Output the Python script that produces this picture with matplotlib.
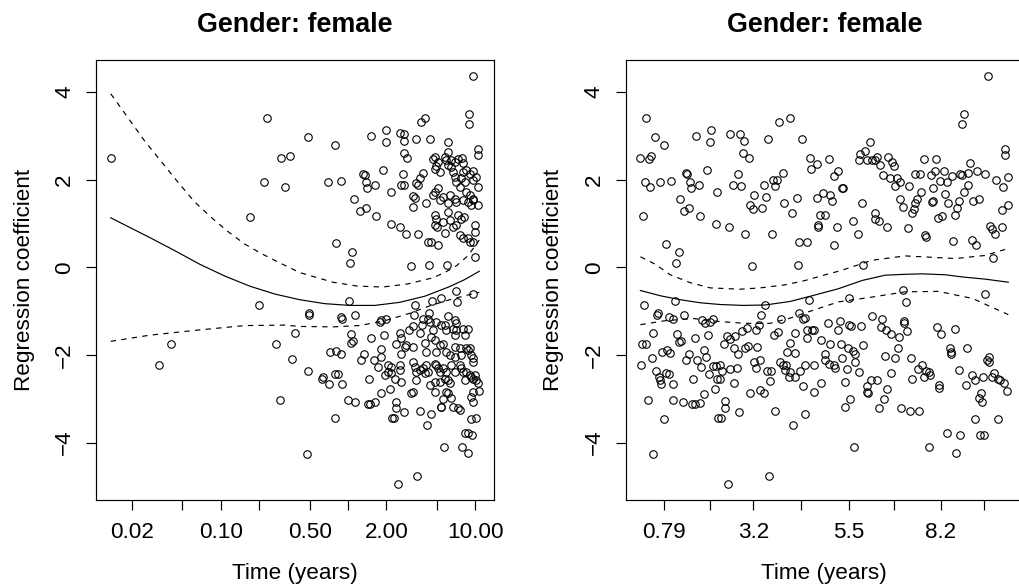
import numpy as np
import matplotlib
matplotlib.use("Agg")
import matplotlib.pyplot as plt
from matplotlib.ticker import NullLocator, FixedLocator, FixedFormatter

plt.rcParams['font.family'] = ['Liberation Sans', 'DejaVu Sans']

title = "Gender: female"
xlabel = "Time (years)"
ylabel = "Regression coefficient"

# ---------------- left panel: log10(time) vs scaled Schoenfeld residual ----------------
left_log10_time = [
    -1.864, -0.634, -0.524, -0.458, -0.660, -0.495, -0.772, -0.699, -1.388, -1.487, -0.566, -0.419, -0.437, -0.537,
    0.982, 0.948, 0.948, 0.603, 0.577, 0.302, 0.302, 0.406, 0.440, 0.440,
    0.537, 0.642, 0.184, -0.104, -0.314, 0.786, 1.022, 1.022, 0.786, 0.765,
    0.681, 0.812, 0.694, 0.896, 0.904, 0.440, 0.467, 0.276, 0.118, 0.132,
    -0.156, -0.052, 0.145, 0.152, 0.210, 0.336, 0.433, 0.414, 0.440, 0.537,
    0.564, 0.590, 0.550, 0.511, 0.524, 0.511, 0.616, 0.668, 0.687, 0.707,
    0.721, 0.747, 0.786, 0.799, 0.825, 0.838, 0.851, 0.878, 0.904, 0.930,
    0.956, 0.982, 0.891, 0.917, 0.982, 1.009, 1.022, 0.930, 0.956, 0.838,
    0.851, 0.904, 0.943, 0.982, 0.969, 1.022, 0.865, 0.891, 0.912, 0.982,
    0.045, 0.092, 0.139, 0.223, 0.336, 0.406, 0.454, 0.550, 0.629, 0.655,
    0.707, 0.681, 0.694, 0.681, 0.700, 0.786, 0.747, 0.799, 0.825, 0.760,
    0.851, 0.878, 0.904, 0.943, 0.956, 0.995, 0.995, 0.982, -0.096, 0.032,
    0.014, 0.498, 0.637, 0.781, 0.995, 0.812, 0.838, 0.865, 0.773, 0.786,
    0.721, 0.707, 0.681, 0.668,
    -0.314, -0.321, -0.306, -0.306, -0.052, -0.044, 0.053, 0.006, 0.851, 0.859,
    0.982, 0.663, 0.734, 0.529, 0.519, 0.637, 0.590, 0.629, 0.786, 0.838,
    0.851, 0.257, 0.296, 0.249, 0.027, 0.040, 0.027, 0.184, 0.283, -0.143,
    -0.096, -0.052, 0.126, 0.105, 0.202, 0.262, 0.262, 0.236, 0.315, 0.341,
    0.406, 0.380, 0.419, 0.459, 0.419, 0.446, 0.511, 0.480, 0.511, 0.564,
    0.603, 0.616, 0.582, 0.647, 0.668, 0.694, 0.734, 0.760, 0.773, 0.747,
    0.721, 0.694, 0.681, 0.655, 0.825, 0.838, 0.851, 0.904, 0.943, 0.917,
    0.838, 0.878, 0.930, 0.943, 0.956, 0.969, 0.982, 0.982, 0.773, 0.799,
    0.838, 0.891, 0.406, 0.341, 0.367, 0.406, 0.419, 0.511, 0.524, 0.537,
    0.564, 0.590, 0.603, 0.616, 0.629, 0.681, 0.694, 0.707, 0.721, 0.747,
    0.773, 0.812, 0.838, 0.878, 0.891, 0.904, 0.930, 0.956, 0.969, 0.982,
    0.995, 1.009, 1.022, 0.917, 0.786, 0.799, 0.760, 0.721, 0.681, 0.642,
    0.681, 0.773, 0.786, 0.812, 0.747, 0.734, 0.825, 0.865, 0.878, 0.982,
    0.969, 0.982, 1.030, 0.537, 0.511, 0.498, 0.262, 0.210, 0.171, 0.158,
    0.053, 0.001, -0.099, -0.078, -0.099, -0.196, -0.201, -0.149, -0.047, 0.166,
    0.380, 0.380, 0.438, 0.349, 0.359, 0.564, 0.655, 0.618, 0.728, 0.922,
    0.943, 0.977, 0.964, 1.003, 0.755, 0.896, 0.943, 0.396, 0.543, 0.333, 0.289, 0.315,
]
left_coef = [
    2.50, 3.41, 2.50, 2.54, 1.95, 1.84, 1.15, -0.86, -1.74, -2.23, -1.74, -1.51, -2.10, -3.03,
    4.36, 3.51, 3.26, 3.41, 3.32, 3.14, 2.85, 3.07, 3.04, 2.88,
    2.92, 2.92, 2.99, 2.80, 2.98, 2.86, 2.71, 2.56, 2.63, 2.52,
    2.51, 2.44, 2.31, 2.50, 2.37, 2.62, 2.50, 2.22, 2.14, 2.10,
    1.95, 1.97, 1.95, 1.81, 1.89, 1.72, 2.12, 1.89, 1.87, 1.93,
    2.03, 2.16, 1.87, 1.63, 1.58, 1.37, 1.46, 1.65, 1.72, 1.80,
    1.53, 1.61, 1.46, 1.65, 2.18, 2.06, 1.95, 1.84, 2.18, 2.22,
    2.14, 2.19, 2.03, 1.95, 1.99, 2.06, 1.84, 1.72, 1.65, 1.57,
    1.49, 1.53, 1.49, 1.53, 1.42, 1.42, 1.19, 1.11, 1.15, 1.57,
    1.57, 1.29, 1.36, 1.17, 0.98, 0.92, 0.75, 0.76, 0.58, 0.58,
    0.52, 1.19, 1.11, 0.96, 0.92, 1.27, 1.04, 1.08, 0.92, 0.79,
    0.96, 0.73, 0.67, 0.66, 0.58, 0.96, 0.81, 0.58, 0.56, 0.35,
    0.10, 0.03, 0.05, 0.06, 0.24, 2.29, 2.41, 2.48, 2.44, 2.33,
    2.18, 2.41, 2.25, 2.48,
    -2.37, -4.26, -1.05, -1.09, -1.13, -1.17, -1.09, -0.76, -0.54, -0.79,
    -0.62, -0.76, -0.70, -0.85, -1.08, -1.04, -1.17, -1.17, -1.11, -1.21,
    -1.28, -1.21, -1.18, -1.24, -1.53, -1.69, -1.72, -1.61, -1.55, -1.93,
    -1.91, -1.97, -1.99, -2.12, -2.12, -1.87, -2.04, -2.27, -2.23, -2.27,
    -1.51, -1.74, -1.61, -1.78, -1.97, -1.81, -1.81, -1.43, -1.34, -1.51,
    -1.72, -1.93, -1.32, -1.24, -1.43, -1.24, -1.32, -1.32, -1.43, -1.74,
    -1.78, -1.94, -1.66, -1.59, -1.40, -1.55, -1.43, -1.40, -1.40, -1.55,
    -1.81, -1.85, -1.85, -1.89, -1.85, -2.00, -2.08, -2.16, -1.93, -2.00,
    -2.04, -2.00, -2.23, -2.42, -2.54, -2.35, -2.61, -2.16, -2.27, -2.39,
    -2.35, -2.31, -2.42, -2.23, -2.39, -2.20, -2.23, -2.31, -2.39, -2.31,
    -2.39, -2.23, -2.39, -2.23, -2.31, -2.39, -2.39, -2.46, -2.50, -2.54,
    -2.46, -2.58, -2.65, -2.58, -2.58, -2.65, -2.54, -2.61, -2.61, -2.69,
    -2.84, -2.84, -2.88, -2.98, -3.00, -3.18, -3.18, -3.22, -3.26, -2.84,
    -2.96, -3.07, -2.83, -2.58, -2.84, -2.88, -2.88, -3.07, -3.13, -3.13,
    -3.07, -3.02, -3.45, -2.44, -2.44, -2.50, -2.54, -2.67, -2.67, -2.56,
    -3.07, -3.22, -3.30, -3.44, -3.45, -3.28, -3.36, -3.59, -3.18, -3.79,
    -3.79, -3.82, -3.47, -3.45, -4.11, -4.10, -4.25, -4.94, -4.77, -2.78, -2.46, -2.39,
]

# smooth fit and +/- 2 se band (left panel, log10 time)
left_fit_log10_time = [-1.864, -1.715, -1.558, -1.361, -1.165, -0.968, -0.772, -0.576, -0.379,
                       -0.183, 0.014, 0.210, 0.406, 0.603, 0.799, 0.917, 1.031]
left_fit = [1.13, 0.91, 0.68, 0.38, 0.07, -0.20, -0.43, -0.61, -0.74,
            -0.83, -0.87, -0.87, -0.80, -0.66, -0.44, -0.28, -0.09]
left_upper_log10_time = [-1.864, -1.730, -1.597, -1.463, -1.338, -1.204, -1.071, -0.945, -0.811, -0.678,
                         -0.536, -0.379, -0.120, 0.077, 0.273, 0.469, 0.666, 0.760, 0.854, 0.941, 1.031]
left_upper = [3.96, 3.42, 2.88, 2.40, 1.95, 1.49, 1.13, 0.82, 0.53, 0.31,
              0.10, -0.12, -0.34, -0.43, -0.45, -0.38, -0.24, -0.12, 0.04, 0.26, 0.62]
left_lower_log10_time = [-1.864, -1.558, -1.204, -0.811, -0.497, -0.379, -0.120, 0.092, 0.289,
                         0.485, 0.642, 0.799, 0.917, 1.031]
left_lower = [-1.69, -1.55, -1.44, -1.33, -1.32, -1.35, -1.36, -1.33, -1.22,
              -1.05, -0.88, -0.74, -0.65, -0.57]

left_ticks = [0.02, 0.05, 0.1, 0.2, 0.5, 1, 2, 5, 10]
left_ticklabels = ["0.02", "", "0.10", "", "0.50", "", "2.00", "", "10.00"]

# ---------------- right panel: KM-transformed time ----------------
right_km_time = [
    0.015, 0.039, 0.064, 0.000, 0.023, 0.030, 0.013, 0.027, 0.055, 0.084,
    0.128, 0.126, 0.137, 0.140, 0.160, 0.110, 0.121, 0.135, 0.163, 0.007,
    0.070, 0.105, 0.098, 0.154, 0.195, 0.192, 0.247, 0.275, 0.286, 0.282,
    0.298, 0.270, 0.254, 0.278, 0.211, 0.183, 0.352, 0.383, 0.413, 0.444,
    0.468, 0.470, 0.392, 0.376, 0.364, 0.370, 0.339, 0.312, 0.346, 0.303,
    0.309, 0.335, 0.396, 0.417, 0.431, 0.207, 0.245, 0.288, 0.361, 0.436,
    0.459, 0.307, 0.433,
    0.956, 0.890, 0.885, 0.633, 0.619, 0.605, 0.601, 0.623, 0.637, 0.646,
    0.651, 0.660, 0.683, 0.694, 0.697, 0.669, 0.688, 0.706, 0.715, 0.701,
    0.740, 0.757, 0.770, 0.781, 0.814, 0.812, 0.835, 0.801, 0.825, 0.844,
    0.857, 0.807, 0.773, 0.839, 0.885, 0.903, 0.908, 0.926, 0.949, 0.880,
    0.892, 0.903, 0.876, 0.871, 0.865, 0.917, 0.931, 0.979, 0.998, 1.012,
    1.004, 1.003, 1.012, 0.995, 0.715, 0.722, 0.761, 0.757, 0.752, 0.747,
    0.803, 0.807, 0.848, 0.830, 0.819, 0.995, 0.963, 0.968, 0.977, 0.486,
    0.518, 0.545, 0.534, 0.555, 0.559, 0.486, 0.504, 0.523, 0.527, 0.495,
    0.509, 0.490, 0.489, 0.541, 0.532, 0.585, 0.598, 0.610, 0.645, 0.645,
    0.656, 0.679, 0.736, 0.784, 0.787, 0.862, 0.913, 0.924, 0.972, 0.614,
    0.011, 0.094, 0.048, 0.046, 0.080, 0.089, 0.119, 0.344, 0.333, 0.388,
    0.438, 0.449, 0.465, 0.035, 0.004, 0.016, 0.101, 0.105, 0.113, 0.151,
    0.185, 0.169, 0.179, 0.192, 0.199, 0.032, 0.002, 0.059, 0.073, 0.082,
    0.133, 0.126, 0.156, 0.174, 0.181, 0.167, 0.043, 0.050, 0.071, 0.078,
    0.055, 0.057, 0.089, 0.145, 0.188, 0.200, 0.209, 0.220, 0.225, 0.218,
    0.211, 0.246, 0.266, 0.258, 0.206, 0.229, 0.238, 0.247, 0.261, 0.281,
    0.293, 0.318, 0.326, 0.367, 0.378, 0.425, 0.459, 0.472, 0.459, 0.257,
    0.268, 0.289, 0.295, 0.321, 0.314, 0.328, 0.318, 0.348, 0.359, 0.358,
    0.385, 0.394, 0.399, 0.402, 0.413, 0.408, 0.427, 0.440, 0.454, 0.477,
    0.404, 0.425, 0.411, 0.448, 0.477, 0.021, 0.091, 0.116, 0.142, 0.151,
    0.163, 0.174, 0.234, 0.232, 0.213, 0.222, 0.272, 0.301, 0.330, 0.341,
    0.371, 0.420, 0.452, 0.066, 0.036, 0.240, 0.354,
    0.573, 0.723, 0.732, 0.949, 0.454, 0.477, 0.516, 0.550, 0.544, 0.573,
    0.580, 0.608, 0.639, 0.665, 0.663, 0.676, 0.690, 0.711, 0.727, 0.727,
    0.735, 0.709, 0.700, 0.674, 0.690, 0.745, 0.749, 0.764, 0.775, 0.780,
    0.786, 0.795, 0.798, 0.816, 0.828, 0.867, 0.899, 0.853, 0.855, 0.856,
    0.876, 0.913, 0.922, 0.943, 0.954, 0.959, 0.961, 0.975, 0.968, 0.984,
    0.991, 1.002, 1.009, 0.498, 0.523, 0.553, 0.571, 0.591, 0.585, 0.613,
    0.507, 0.509, 0.518, 0.532, 0.536, 0.556, 0.591, 0.568, 0.601, 0.497,
    0.564, 0.623, 0.635, 0.651, 0.625, 0.628, 0.680, 0.671, 0.657, 0.578,
    0.562, 0.589, 0.718, 0.743, 0.766, 0.821, 0.821, 0.896, 0.938, 0.931,
    0.940, 0.922, 0.986, 0.844, 0.879, 0.934, 0.947, 0.795, 0.869,
]
right_coef = [
    3.41, 2.98, 2.79, 2.50, 2.48, 2.54, 1.95, 1.84, 1.95, 1.97,
    2.14, 2.16, 1.95, 1.81, 1.89, 1.57, 1.29, 1.36, 1.17, 1.17,
    0.54, 0.35, 0.10, 2.99, 3.14, 2.85, 3.05, 3.04, 2.88, 2.61,
    2.50, 2.12, 1.87, 1.85, 1.71, 2.22, 2.92, 3.32, 3.41, 2.92,
    2.50, 2.24, 2.16, 2.00, 2.00, 1.85, 1.87, 1.65, 1.61, 1.42,
    1.32, 1.36, 1.47, 1.23, 1.59, 0.98, 0.92, 0.75, 0.77, 0.58,
    0.58, 0.03, 0.05,
    4.36, 3.50, 3.26, 2.85, 2.65, 2.58, 2.46, 2.44, 2.44, 2.44,
    2.51, 2.33, 2.51, 2.41, 2.32, 2.10, 2.04, 2.03, 1.95, 1.86,
    1.85, 2.12, 2.12, 2.48, 2.48, 2.19, 2.19, 2.10, 1.97, 1.95,
    2.08, 1.82, 1.72, 1.68, 2.10, 2.16, 2.37, 2.19, 2.14, 2.12,
    1.72, 1.89, 1.51, 1.36, 1.19, 1.51, 1.55, 2.00, 1.84, 2.06,
    2.70, 2.56, 1.42, 1.30, 1.55, 1.38, 1.57, 1.46, 1.34, 1.23,
    1.49, 1.51, 1.46, 1.17, 1.13, 0.92, 0.94, 0.88, 0.75, 2.35,
    2.48, 2.19, 2.09, 1.80, 1.80, 1.58, 1.70, 1.65, 1.52, 1.20,
    1.19, 0.96, 0.92, 0.91, 0.52, 1.05, 0.77, 1.46, 1.23, 1.10,
    1.05, 0.91, 0.90, 0.73, 0.69, 0.60, 0.62, 0.50, 0.22, 0.05,
    -0.86, -0.76, -1.04, -1.09, -1.13, -1.17, -1.09, -0.85, -1.08, -1.17,
    -1.04, -1.17, -0.75, -1.51, -1.74, -1.74, -1.53, -1.70, -1.69, -1.61,
    -1.55, -1.21, -1.28, -1.24, -1.17, -2.08, -2.23, -1.93, -1.89, -1.95,
    -1.99, -2.12, -2.12, -1.88, -2.04, -2.27, -2.37, -2.50, -2.42, -2.44,
    -2.58, -2.67, -2.67, -2.56, -2.44, -2.25, -2.25, -2.23, -2.37, -2.54,
    -2.55, -2.32, -2.31, -2.63, -2.78, -1.74, -1.57, -1.64, -1.56, -1.46,
    -1.38, -1.43, -1.32, -1.55, -1.47, -1.50, -1.43, -1.43, -1.62, -1.85,
    -1.99, -1.84, -1.80, -1.81, -2.16, -2.12, -2.31, -2.37, -2.37, -2.60,
    -2.16, -2.23, -2.35, -2.22, -2.40, -2.50, -2.50, -2.37, -2.23, -2.23,
    -1.93, -1.95, -1.72, -2.70, -2.84, -3.03, -3.02, -3.07, -3.13, -3.13,
    -3.09, -2.90, -3.05, -3.22, -3.44, -3.45, -3.30, -2.88, -2.79, -2.86,
    -3.28, -3.59, -3.36, -3.47, -4.26, -4.94, -4.77,
    -0.70, -0.52, -0.79, -0.61, -1.15, -1.43, -1.28, -1.22, -1.43, -1.32,
    -1.34, -1.34, -1.11, -1.19, -1.37, -1.43, -1.53, -1.59, -1.23, -1.28,
    -1.46, -1.84, -2.08, -2.03, -2.42, -2.08, -2.55, -2.33, -2.23, -2.50,
    -2.37, -2.39, -2.45, -1.37, -1.53, -1.40, -1.85, -1.84, -1.93, -1.99,
    -2.35, -2.46, -2.58, -2.50, -2.12, -2.17, -2.04, -2.42, -2.50, -2.54,
    -2.58, -2.63, -2.83, -1.66, -1.76, -1.75, -1.84, -1.97, -1.91, -1.78,
    -1.99, -2.12, -2.20, -2.23, -2.29, -2.07, -2.17, -2.32, -2.39, -2.63,
    -2.61, -2.70, -2.58, -2.58, -2.84, -2.88, -2.78, -3.00, -3.21, -3.01,
    -3.18, -4.11, -3.21, -3.28, -3.28, -2.69, -2.75, -2.69, -2.86, -2.98,
    -3.07, -3.47, -3.46, -3.79, -3.82, -3.83, -3.83, -4.10, -4.25,
]

right_fit_km_time = [0.000, 0.055, 0.110, 0.165, 0.220, 0.283, 0.344, 0.412, 0.468, 0.545,
                     0.611, 0.674, 0.729, 0.776, 0.839, 0.886, 0.949, 1.013]
right_fit = [-0.53, -0.65, -0.74, -0.81, -0.85, -0.87, -0.86, -0.78, -0.66, -0.49,
             -0.30, -0.18, -0.16, -0.15, -0.17, -0.22, -0.27, -0.34]
right_upper_km_time = [0.000, 0.041, 0.082, 0.137, 0.192, 0.275, 0.330, 0.399, 0.454, 0.509,
                       0.550, 0.638, 0.729, 0.867, 0.949, 1.013]
right_upper = [0.24, 0.07, -0.17, -0.35, -0.47, -0.50, -0.47, -0.40, -0.30, -0.17,
               -0.08, 0.16, 0.26, 0.20, 0.27, 0.43]
right_lower_km_time = [0.000, 0.068, 0.146, 0.220, 0.289, 0.357, 0.412, 0.454, 0.545, 0.638,
                       0.729, 0.820, 0.914, 1.013]
right_lower = [-1.31, -1.22, -1.17, -1.24, -1.28, -1.28, -1.16, -1.04, -0.79, -0.68,
               -0.56, -0.55, -0.71, -1.08]

right_tick_pos = [0.0636, 0.192, 0.311, 0.443, 0.573, 0.699, 0.827, 0.947]
right_ticklabels = ["0.79", "", "3.2", "", "5.5", "", "8.2", ""]

y_ticks = [-4, -2, 0, 2, 4]

# ---------------- figure ----------------
W, H = 1019, 588
fig = plt.figure(figsize=(W / 100, H / 100), dpi=100)
axL = fig.add_axes([96 / W, 88 / H, 398 / W, 440 / H])
axR = fig.add_axes([625.7 / W, 88 / H, 397.3 / W, 440 / H])

FS = 16.2
pt_kw = dict(ls='none', marker='o', ms=5.4, mfc='none', mec='black', mew=0.8)
line_kw = dict(color='black', lw=0.85)
dash_kw = dict(color='black', lw=0.85, ls=(0, (4.5, 4.5)))

# left
axL.plot(10 ** np.array(left_log10_time), left_coef, **pt_kw)
axL.plot(10 ** np.array(left_fit_log10_time), left_fit, **line_kw)
axL.plot(10 ** np.array(left_upper_log10_time), left_upper, **dash_kw)
axL.plot(10 ** np.array(left_lower_log10_time), left_lower, **dash_kw)
axL.set_xscale('log')
axL.set_xlim(10 ** -1.9798, 10 ** 1.1468)
axL.xaxis.set_major_locator(FixedLocator(left_ticks))
axL.xaxis.set_major_formatter(FixedFormatter(left_ticklabels))
axL.xaxis.set_minor_locator(NullLocator())

# right
axR.plot(right_km_time, right_coef, **pt_kw)
axR.plot(right_fit_km_time, right_fit, **line_kw)
axR.plot(right_upper_km_time, right_upper, **dash_kw)
axR.plot(right_lower_km_time, right_lower, **dash_kw)
axR.set_xlim(-0.0405, 1.0535)
axR.set_xticks(right_tick_pos)
axR.set_xticklabels(right_ticklabels)

for ax in (axL, axR):
    ax.set_ylim(-5.312, 4.732)
    ax.set_yticks(y_ticks)
    ax.set_yticklabels([str(v).replace('-', '\u2212') for v in y_ticks])
    for s in ax.spines.values():
        s.set_linewidth(0.85)
        s.set_color('black')
    ax.tick_params(axis='both', direction='out', length=7, width=0.85,
                   labelsize=FS, colors='black')
    ax.tick_params(axis='x', pad=9)
    ax.tick_params(axis='y', pad=8, labelrotation=90)
    for lab in ax.get_yticklabels():
        lab.set_va('center')
    ax.set_title(title, fontsize=19.4, fontweight='bold', pad=20.5)
    ax.set_xlabel(xlabel, fontsize=FS, labelpad=14)
    ax.set_ylabel(ylabel, fontsize=FS, labelpad=14)

fig.savefig("out.png", dpi=100)
